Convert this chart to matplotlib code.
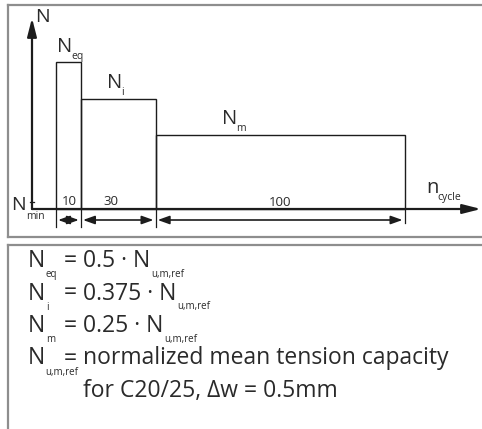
import matplotlib
matplotlib.use('Agg')
import numpy as np
import matplotlib.pyplot as plt
from matplotlib.lines import Line2D

W, H = 482, 429

# load stages: number of cycles and load level (fraction of N_u,m,ref)
STAGE_SUBS = ['eq', 'i', 'm']
CYCLES = [10, 30, 100]
LOADS = [0.5, 0.375, 0.25]
NMIN_TICK = 0.024

# legend text below the diagram
DEF_LEFT = ['eq', 'i', 'm', 'u,m,ref']
DEF_RIGHT = ['0.5 · N', '0.375 · N', '0.25 · N', 'normalized mean tension capacity']
DEF_LAST = 'for C20/25, Δw = 0.5mm'

LINE = '#1c1c1c'
TEXT = '#2a2a2a'
BOX = '#8e8e8e'

plt.rcParams['font.family'] = ['Open Sans', 'DejaVu Sans']

fig = plt.figure(figsize=(W / 100, H / 100), dpi=100)


def fx(x):
    return x / W


def fy(y):
    return 1 - y / H


def put(x, y, s, size, ha='left', **kw):
    return fig.text(fx(x), fy(y), s, fontsize=size, color=TEXT,
                    ha=ha, va='baseline', **kw)


def hline(x0, x1, y, **kw):
    fig.add_artist(Line2D([fx(x0), fx(x1)], [fy(y), fy(y)], **kw))


def vline(x, y0, y1, **kw):
    fig.add_artist(Line2D([fx(x), fx(x)], [fy(y0), fy(y1)], **kw))


# panel frames
hline(8, 482, 5, color=BOX, lw=1.6)
vline(8, 5, 237, color=BOX, lw=1.6)
hline(8, 482, 237, color=BOX, lw=1.6)
hline(8, 482, 245, color=BOX, lw=1.6)
vline(8, 245, 429, color=BOX, lw=1.6)

# diagram axes (data coords: cycles / load)
PX_CYC = 2.49
PX_N = 294.6
ax = fig.add_axes([fx(32), fy(209), (481 - 32) / W, (209 - 18) / H])
x_lo = (32 - 56) / PX_CYC
x_hi = (481 - 56) / PX_CYC
y_hi = (209 - 18) / PX_N
ax.set_xlim(x_lo, x_hi)
ax.set_ylim(0, y_hi)
ax.axis('off')

lefts = np.concatenate([[0], np.cumsum(CYCLES)[:-1]])
ax.bar(lefts, LOADS, width=CYCLES, align='edge', fill=False,
       edgecolor=LINE, lw=1.0, clip_on=False)

head = '-|>,head_length=1.1,head_width=0.28'
ax.annotate('', xy=(x_hi, 0), xytext=(x_lo, 0),
            arrowprops=dict(arrowstyle=head, lw=1.6, color=LINE,
                            shrinkA=0, shrinkB=0, mutation_scale=10),
            annotation_clip=False)
ax.annotate('', xy=(x_lo, y_hi), xytext=(x_lo, 0),
            arrowprops=dict(arrowstyle=head, lw=1.6, color=LINE,
                            shrinkA=0, shrinkB=0, mutation_scale=10),
            annotation_clip=False)

# N_min tick
ax.plot([x_lo - 0.9, x_lo + 0.9], [NMIN_TICK, NMIN_TICK], color=LINE,
        lw=0.9, clip_on=False)

# dimension lines below the axis
edges = np.concatenate([[0], np.cumsum(CYCLES)])
dim_y = -11 / PX_N
for k, e in enumerate(edges):
    low = -0.047 if k == len(edges) - 1 else -0.062
    ax.plot([e, e], [0, low], color=LINE, lw=0.9, clip_on=False)
for a, b in zip(edges[:-1], edges[1:]):
    ax.annotate('', xy=(b, dim_y), xytext=(a, dim_y),
                arrowprops=dict(arrowstyle='<|-|>,head_length=0.7,head_width=0.25',
                                lw=1.2, color=LINE, shrinkA=1.5, shrinkB=1.5,
                                mutation_scale=10),
                annotation_clip=False)

# diagram labels
put(35, 22, 'N', 14)
label_pos = [(57, 52), (107, 88), (222, 124)]
for (x, y), sub in zip(label_pos, STAGE_SUBS):
    put(x, y, 'N', 14.5)
    put(x + 14.5, y + 7, sub, 7.5)
put(11, 210, 'N', 14)
put(26, 219, 'min', 7.5)
cyc_pos = [(62, 205), (103, 205), (269, 206)]
for (x, y), c in zip(cyc_pos, CYCLES):
    put(x, y, str(c), 9.5)
put(426, 193, 'n', 14.5)
put(437, 200, 'cycle', 7.5)

# definitions
fig.canvas.draw()
rend = fig.canvas.get_renderer()
FS = 16.5
rows_y = [267, 299.5, 332, 364.5]
for y, sub, rhs in zip(rows_y, DEF_LEFT, DEF_RIGHT):
    n = put(28, y, 'N', FS)
    nb = n.get_window_extent(rend)
    put(nb.x1 + 0.5, y + 10, sub, 7)
    put(70, y, '=', FS, ha='center')
    t = put(83, y, rhs, FS)
    if rhs.endswith('N'):
        bb = t.get_window_extent(rend)
        put(bb.x1 + 0.5, y + 10, 'u,m,ref', 7)
put(83, 397, DEF_LAST, FS)

fig.savefig('out.png', dpi=100)
